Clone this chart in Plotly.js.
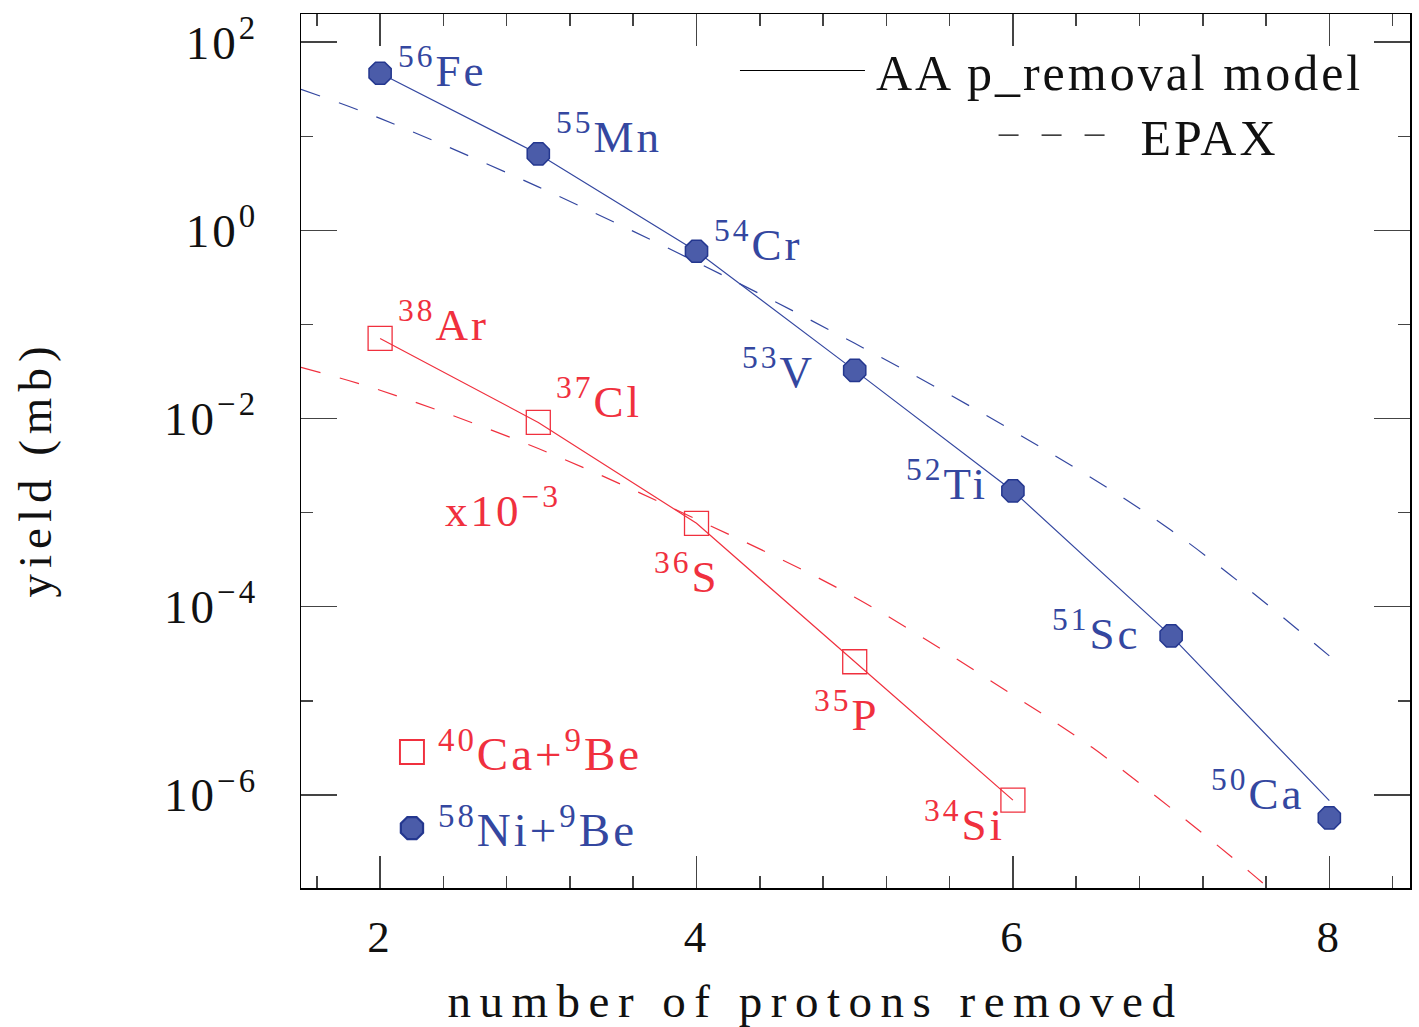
<!DOCTYPE html>
<html>
<head>
<meta charset="utf-8">
<script src="https://cdn.plot.ly/plotly-3.0.1.min.js"></script>
<style>
  html, body { margin: 0; padding: 0; background: #fff; }
  #chart { width: 1419px; height: 1027px; }
  text { letter-spacing: 3px; }
  #chart .xtitle { letter-spacing: 8.5px; }
  #chart .ytitle { letter-spacing: 6px; }
</style>
</head>
<body>
<div id="chart"></div>
<script>
// ---------- data ----------
const nRemoved = [2, 3, 4, 5, 6, 7, 8];           // protons removed, 58Ni + 9Be
const niYield  = [46.8, 6.5, 0.60, 0.0325, 0.0017, 4.9e-5, 5.7e-7];
const niModel  = [46.8, 6.5, 0.60, 0.0325, 0.0017, 4.9e-5, 8.7e-7];
const niLabels = ['<sup>56</sup>Fe', '<sup>55</sup>Mn', '<sup>54</sup>Cr', '<sup>53</sup>V',
                  '<sup>52</sup>Ti', '<sup>51</sup>Sc', '<sup>50</sup>Ca'];

const caRemoved = [2, 3, 4, 5, 6];                 // protons removed, 40Ca + 9Be (x10^-3)
const caYield   = [0.071, 0.0091, 7.7e-4, 2.6e-5, 8.8e-7];
const caModel   = [0.071, 0.0091, 7.7e-4, 2.6e-5, 8.8e-7];
const caLabels  = ['<sup>38</sup>Ar', '<sup>37</sup>Cl', '<sup>36</sup>S', '<sup>35</sup>P', '<sup>34</sup>Si'];

const epaxNiX = [1.5, 2, 3, 4, 5, 6, 7, 8];
const epaxNiY = [31.6, 15.5, 2.9, 0.46, 0.063, 0.0074, 6.5e-4, 3.0e-5];
const epaxCaX = [1.5, 2, 3, 4, 5, 6, 6.5, 7, 7.5, 8];
const epaxCaY = [0.035, 0.020, 0.0048, 8.5e-4, 1.26e-4, 1.15e-5, 3.2e-6, 7.2e-7, 1.5e-7, 2.8e-8];

const yTickVals  = [1e-6, 1e-4, 1e-2, 1, 100];
const yTickText  = ['10<sup>\u22126</sup>', '10<sup>\u22124</sup>', '10<sup>\u22122</sup>', '10<sup>0</sup>', '10<sup>2</sup>'];
const yMinorVals = [1e-7, 1e-6, 1e-5, 1e-4, 1e-3, 1e-2, 1e-1, 1, 10, 100];

const legendNames = ['AA p_removal model', 'EPAX'];
const reactionNames = ['<sup>40</sup>Ca+<sup>9</sup>Be', '<sup>58</sup>Ni+<sup>9</sup>Be'];
const scaleNote = 'x10<sup>\u22123</sup>';
const scaleNotePos = {x: 2.40, y: 1.12e-3};

// ---------- styles ----------
const BLUE = '#3447a0';
const BLUE_FILL = '#4b5ca9';
const RED = '#f0303e';
const FONT = 'Liberation Serif, Times New Roman, serif';
const DASH = '20px,20px';

// label offsets (pixels) relative to each point
const niOff = [
  {xa: 'left',  dx: 16,  dy: 6},
  {xa: 'left',  dx: 16,  dy: 20},
  {xa: 'left',  dx: 15,  dy: 10},
  {xa: 'right', dx: -38, dy: 2},
  {xa: 'right', dx: -23, dy: 10},
  {xa: 'right', dx: -28, dy: 5},
  {xa: 'right', dx: -22, dy: 27}
];
const caOff = [
  {xa: 'left',  dx: 16,  dy: 17},
  {xa: 'left',  dx: 16,  dy: 24},
  {xa: 'right', dx: 25,  dy: -50},
  {xa: 'right', dx: 27,  dy: -50},
  {xa: 'right', dx: -6,  dy: -21}
];

const traces = [
  {x: nRemoved, y: niModel, mode: 'lines', line: {color: BLUE, width: 1.2}, showlegend: false, hoverinfo: 'skip'},
  {x: caRemoved, y: caModel, mode: 'lines', line: {color: RED, width: 1.2}, showlegend: false, hoverinfo: 'skip'},
  {x: epaxNiX, y: epaxNiY, mode: 'lines', line: {color: BLUE, width: 1.2, dash: DASH, shape: 'spline'}, showlegend: false, hoverinfo: 'skip'},
  {x: epaxCaX, y: epaxCaY, mode: 'lines', line: {color: RED, width: 1.2, dash: DASH, shape: 'spline'}, showlegend: false, hoverinfo: 'skip'},
  {x: [null], y: [null], mode: 'lines', name: legendNames[0], line: {color: '#000', width: 1.2}, legend: 'legend'},
  {x: [null], y: [null], mode: 'lines', name: legendNames[1], line: {color: '#000', width: 1.2, dash: '20px,23px'}, legend: 'legend3'},
  {x: caRemoved, y: caYield, mode: 'markers', legend: 'legend2', legendgroup: 'ca',
   name: '<span style="color:' + RED + '">' + reactionNames[0] + '</span>',
   marker: {symbol: 'square-open', size: 24, color: RED, line: {color: RED, width: 1.3}}},
  {x: nRemoved, y: niYield, mode: 'markers', legend: 'legend2', legendgroup: 'ni',
   name: '<span style="color:' + BLUE + '">' + reactionNames[1] + '</span>',
   marker: {symbol: 'octagon', size: 24, color: BLUE_FILL, line: {color: '#24378f', width: 1.5}}}
];

const annotations = [];
nRemoved.forEach((xv, i) => {
  annotations.push({x: xv, y: Math.log10(niYield[i]), xref: 'x', yref: 'y', text: niLabels[i],
    showarrow: false, xanchor: niOff[i].xa, yanchor: 'middle', xshift: niOff[i].dx, yshift: niOff[i].dy,
    font: {family: FONT, size: 45, color: BLUE}});
});
caRemoved.forEach((xv, i) => {
  annotations.push({x: xv, y: Math.log10(caYield[i]), xref: 'x', yref: 'y', text: caLabels[i],
    showarrow: false, xanchor: caOff[i].xa, yanchor: 'middle', xshift: caOff[i].dx, yshift: caOff[i].dy,
    font: {family: FONT, size: 45, color: RED}});
});
annotations.push({x: scaleNotePos.x, y: Math.log10(scaleNotePos.y), xref: 'x', yref: 'y', text: scaleNote,
  showarrow: false, xanchor: 'left', yanchor: 'middle', font: {family: FONT, size: 45, color: RED}});

const legendBase = {bgcolor: 'rgba(0,0,0,0)', borderwidth: 0, font: {family: FONT, size: 50, color: '#111'}};

const layout = {
  width: 1419, height: 1027,
  margin: {l: 301, r: 9, t: 14, b: 139},
  paper_bgcolor: '#fff', plot_bgcolor: '#fff',
  font: {family: FONT, size: 44, color: '#111'},
  showlegend: true,
  xaxis: {
    range: [1.5, 8.51], tickmode: 'linear', tick0: 0, dtick: 2,
    ticks: 'inside', ticklen: 32, tickwidth: 1.5, tickcolor: '#444',
    minor: {tickmode: 'linear', tick0: 0, dtick: 0.4, ticks: 'inside', ticklen: 12, tickwidth: 1.5, tickcolor: '#444'},
    showline: true, linecolor: '#000', linewidth: 1.5, mirror: 'allticks',
    showgrid: false, zeroline: false,
    ticklabelstandoff: 8,
    tickfont: {family: FONT, size: 45, color: '#111'},
    title: {text: 'number of protons removed', standoff: 38, font: {family: FONT, size: 47, color: '#111'}}
  },
  yaxis: {
    type: 'log', range: [-6.99, 2.30],
    tickmode: 'array', tickvals: yTickVals, ticktext: yTickText,
    ticks: 'inside', ticklen: 36, tickwidth: 1.5, tickcolor: '#444',
    minor: {tickmode: 'array', tickvals: yMinorVals, ticks: 'inside', ticklen: 12, tickwidth: 1.5, tickcolor: '#444'},
    showline: true, linecolor: '#000', linewidth: 1.5, mirror: 'allticks',
    showgrid: false, zeroline: false,
    ticklabelstandoff: 32,
    tickfont: {family: FONT, size: 47, color: '#111'},
    title: {text: 'yield (mb)', standoff: 97, font: {family: FONT, size: 47, color: '#111'}}
  },
  legend: Object.assign({x: 0.963, y: 0.98, xanchor: 'right', yanchor: 'top', itemwidth: 131}, legendBase),
  legend3: Object.assign({x: 0.886, y: 0.906, xanchor: 'right', yanchor: 'top', itemwidth: 137}, legendBase),
  legend2: {
    x: 0.0766, y: 0.198, xanchor: 'left', yanchor: 'top',
    bgcolor: 'rgba(0,0,0,0)', borderwidth: 0,
    font: {family: FONT, size: 47, color: '#111'},
    tracegroupgap: 12, itemsizing: 'trace', itemwidth: 42
  },
  annotations: annotations
};

Plotly.newPlot('chart', traces, layout, {displayModeBar: false, staticPlot: true}).then(() => {
  // enlarge the legend markers to the size used in the plot
  document.querySelectorAll('#chart .legendpoints path.scatterpts').forEach(p => {
    const t = p.getAttribute('transform') || '';
    p.setAttribute('transform', t + ' scale(1.5)');
  });
  // long legend line samples as in the original figure
  document.querySelectorAll('#chart g.legendlines path').forEach(p => {
    const da = p.style.strokeDasharray;
    const dashed = da && da !== 'none';
    p.setAttribute('d', dashed ? 'M5,0h107' : 'M5,0h125');
  });
  // place the axis titles as in the original figure
  const xt = document.querySelector('#chart .xtitle');
  if (xt) xt.setAttribute('transform', 'translate(-40,0) ' + (xt.getAttribute('transform') || ''));
  const yt = document.querySelector('#chart .ytitle');
  if (yt) yt.setAttribute('transform', 'translate(0,18) ' + (yt.getAttribute('transform') || ''));
});
</script>
</body>
</html>
